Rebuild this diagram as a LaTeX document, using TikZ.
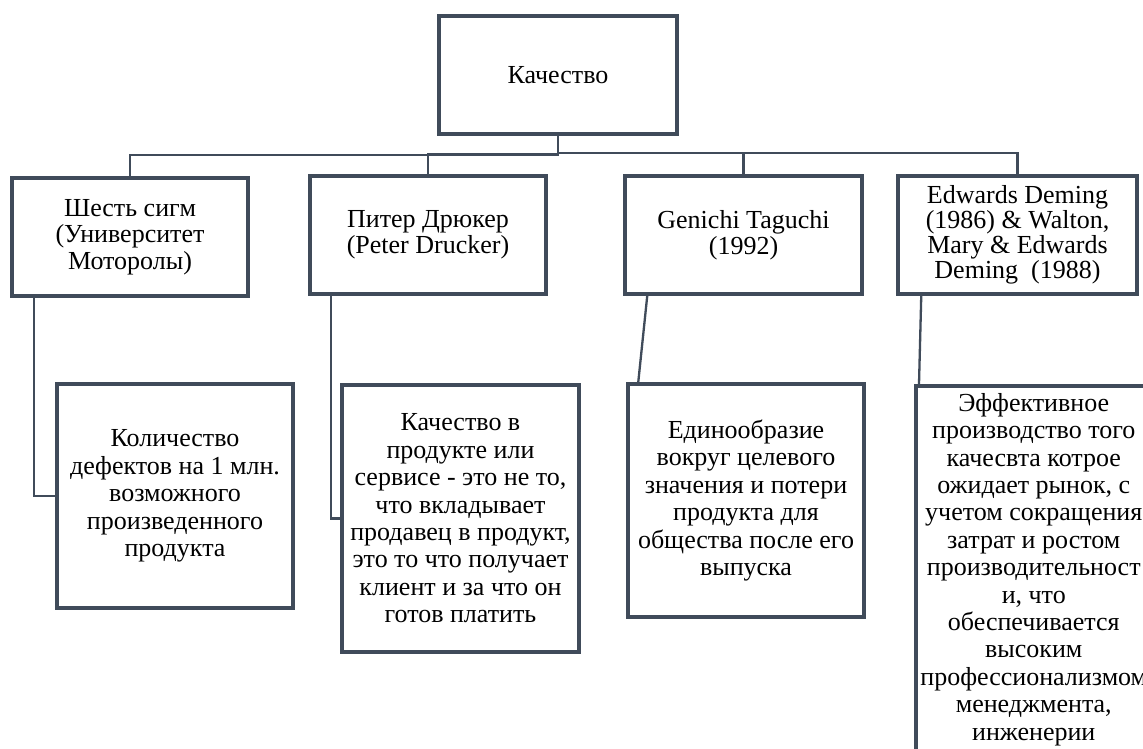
\documentclass[tikz,border=0pt]{standalone}
\usepackage{fontspec}
\setmainfont{Liberation Serif}
\definecolor{edgecol}{RGB}{64,75,90}
\begin{document}
\begin{tikzpicture}[x=1pt,y=-1pt,
  txt/.style={font=\fontsize{26}{27.4}\selectfont},
  box/.style={draw=edgecol, line width=3.5pt, rectangle, fill=white, align=center, inner sep=0pt, txt},
  conn/.style={draw=edgecol, line width=2.3pt}]
\useasboundingbox (0,0) rectangle (1143,749);
\clip (0,0) rectangle (1143,749);
\fill[white] (0,0) rectangle (1143,749);

% top
\node[box, minimum width=238pt, minimum height=118pt] (top) at (558,75) {Качество};

% second row
\node[box, minimum width=236pt, minimum height=118pt, font=\fontsize{26}{26.5}\selectfont] (A) at (130,237) {Шесть сигм\\(Университет\\Моторолы)};
\node[box, minimum width=236pt, minimum height=118pt, font=\fontsize{26}{26.5}\selectfont] (B) at (428,235) {Питер Дрюкер\\(Peter Drucker)};
\node[box, minimum width=237pt, minimum height=118pt, font=\fontsize{26}{26.5}\selectfont] (C) at (743.5,235) {Genichi Taguchi\\(1992)};
\node[box, minimum width=239pt, minimum height=118pt, font=\fontsize{26}{25}\selectfont] (D) at (1017.5,235) {Edwards Deming\\(1986) \& Walton,\\Mary \& Edwards\\Deming\ \ (1988)};

% third row
\node[box, minimum width=236pt, minimum height=224pt] (A2) at (175,496) {Количество\\дефектов на 1 млн.\\возможного\\произведенного\\продукта};
\node[box, minimum width=237pt, minimum height=267pt] (B2) at (460.5,518.5) {Качество в\\продукте или\\сервисе - это не то,\\что вкладывает\\продавец в продукт,\\это то что получает\\клиент и за что он\\готов платить};
\node[box, minimum width=236pt, minimum height=233pt] (C2) at (746,500.5) {Единообразие\\вокруг целевого\\значения и потери\\продукта для\\общества после его\\выпуска};
\node[box, minimum width=236pt, minimum height=420pt, anchor=north west,
  label={[txt, align=center, anchor=north, inner sep=0pt, yshift=-9pt]north:{Эффективное\\производство того\\качесвта котрое\\ожидает рынок, с\\учетом сокращения\\затрат и ростом\\производительност\\и, что\\обеспечивается\\высоким\\профессионализмом\\менеджмента,\\инженерии}}] (D2) at (914,384) {};

% connectors
\draw[conn] (top.south) -- ++(0,19.5) -| (A.north);
\draw[conn] (top.south) -- ++(0,18) -| (B.north);
\draw[conn] (top.south) -- ++(0,17.5) -| (C.north);
\draw[conn] (top.south) -- ++(0,17) -| (D.north);

\draw[conn] ([xshift=24pt]A.south west) |- (A2.west);
\draw[conn] ([xshift=23pt]B.south west) |- (B2.west);
\draw[conn] ([xshift=24pt]C.south west) -- ([xshift=12pt]C2.north west);
\draw[conn] ([xshift=25pt]D.south west) -- ([xshift=5pt]D2.north west);
\end{tikzpicture}
\end{document}
